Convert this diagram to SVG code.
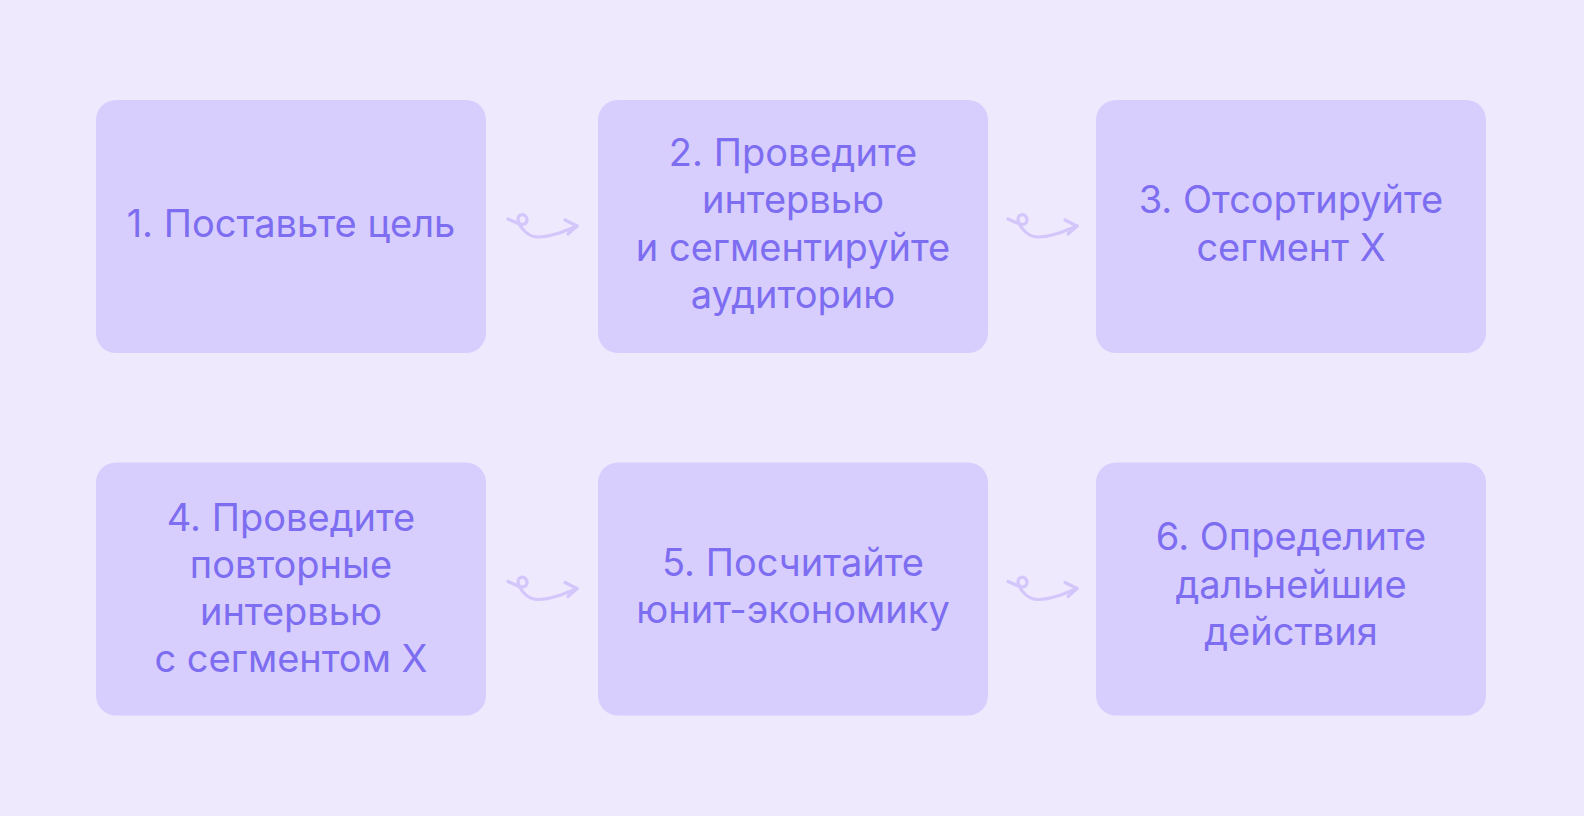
<svg xmlns="http://www.w3.org/2000/svg" width="1584" height="816" viewBox="0 0 1584 816">
  <defs>
    <style>
      .box { fill: #d8cefd; }
      .lbl { font-family: Inter, "Noto Sans", "Liberation Sans", sans-serif; font-size: 38px; fill: #7d6df1; text-anchor: middle; }
      .arr { fill: none; stroke: #d2c6fb; stroke-width: 3.2; stroke-linecap: round; stroke-linejoin: round; }
    </style>
    <g id="squiggle">
      <path class="arr" d="M 508 219 C 515 222, 523 227, 526 223 C 529 218, 524 212, 519 216 C 515 221, 525 237, 538 237 C 551 237, 565 231, 577 226"/>
      <path class="arr" d="M 565 220 L 577 226 L 568 234"/>
    </g>
  </defs>
  <rect width="1584" height="816" fill="#efe9fe"/>

  <g id="node1">
    <rect class="box" x="96" y="100" width="390" height="253" rx="20"/>
    <text class="lbl" x="291" y="237">1. Поставьте цель</text>
  </g>
  <g id="node2">
    <rect class="box" x="598" y="100" width="390" height="253" rx="20"/>
    <text class="lbl" x="793" y="165.5">2. Проведите</text>
    <text class="lbl" x="793" y="213">интервью</text>
    <text class="lbl" x="793" y="260.5">и сегментируйте</text>
    <text class="lbl" x="793" y="308">аудиторию</text>
  </g>
  <g id="node3">
    <rect class="box" x="1096" y="100" width="390" height="253" rx="20"/>
    <text class="lbl" x="1291" y="213">3. Отсортируйте</text>
    <text class="lbl" x="1291" y="260.5">сегмент Х</text>
  </g>
  <g id="node4">
    <rect class="box" x="96" y="462.5" width="390" height="253" rx="20"/>
    <text class="lbl" x="291" y="530.5">4. Проведите</text>
    <text class="lbl" x="291" y="577.5">повторные</text>
    <text class="lbl" x="291" y="624.5">интервью</text>
    <text class="lbl" x="291" y="671.5">с сегментом Х</text>
  </g>
  <g id="node5">
    <rect class="box" x="598" y="462.5" width="390" height="253" rx="20"/>
    <text class="lbl" x="793" y="576">5. Посчитайте</text>
    <text class="lbl" x="793" y="622.5">юнит-экономику</text>
  </g>
  <g id="node6">
    <rect class="box" x="1096" y="462.5" width="390" height="253" rx="20"/>
    <text class="lbl" x="1291" y="550">6. Определите</text>
    <text class="lbl" x="1291" y="597.5">дальнейшие</text>
    <text class="lbl" x="1291" y="645">действия</text>
  </g>

  <g id="connectors">
    <use href="#squiggle"/>
    <use href="#squiggle" transform="translate(500,0)"/>
    <use href="#squiggle" transform="translate(0,362.5)"/>
    <use href="#squiggle" transform="translate(500,362.5)"/>
  </g>
</svg>
